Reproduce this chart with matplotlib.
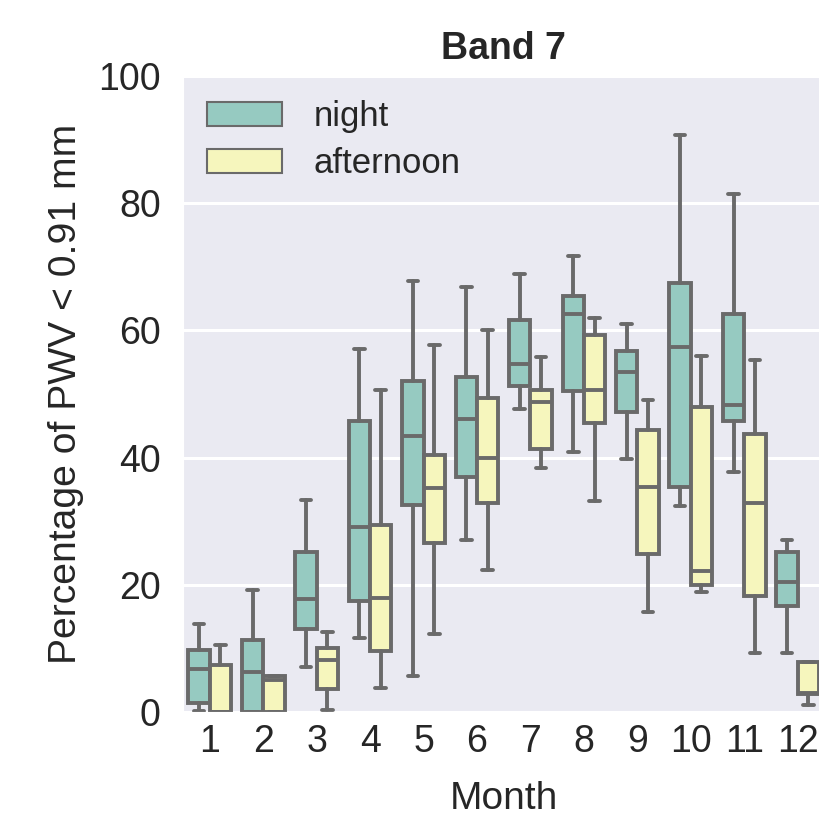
import matplotlib
matplotlib.use("Agg")
import matplotlib.pyplot as plt
import matplotlib.patches as mpatches
import seaborn as sns

# box statistics (percent)
months = [str(m) for m in range(1, 13)]

night_lo = [0.2, 0.0, 7.0, 11.7, 5.7, 27.0, 47.7, 40.8, 39.7, 32.4, 37.7, 9.3]
night_q1 = [1.4, 0.0, 13.0, 17.5, 32.5, 37.0, 51.2, 50.4, 47.1, 35.3, 45.7, 16.6]
night_med = [6.7, 6.3, 17.7, 29.1, 43.4, 46.0, 54.7, 62.6, 53.5, 57.4, 48.2, 20.5]
night_q3 = [9.7, 11.3, 25.1, 45.8, 52.1, 52.7, 61.7, 65.4, 56.7, 67.5, 62.5, 25.1]
night_hi = [13.9, 19.1, 33.3, 57.0, 67.8, 66.8, 68.8, 71.7, 61.0, 90.7, 81.4, 27.0]

aft_lo = [0.0, 0.0, 0.3, 3.7, 12.3, 22.3, 38.3, 33.1, 15.7, 18.8, 9.3, 1.1]
aft_q1 = [0.0, 0.0, 3.6, 9.6, 26.5, 32.9, 41.3, 45.5, 24.9, 20.0, 18.2, 2.8]
aft_med = [0.0, 5.0, 8.2, 17.9, 35.2, 40.0, 48.8, 50.6, 35.3, 22.1, 32.8, 3.0]
aft_q3 = [7.4, 5.6, 10.0, 29.4, 40.4, 49.3, 50.7, 59.3, 44.3, 48.0, 43.7, 7.8]
aft_hi = [10.5, 5.6, 12.6, 50.7, 57.7, 60.1, 55.8, 61.9, 49.1, 56.0, 55.4, 7.8]

night_color = "#96cac1"
aft_color = "#f6f6bd"
edge = "#6a6a6a"

sns.set_style("darkgrid")
plt.rcParams['font.family'] = ['Liberation Sans', 'DejaVu Sans']
plt.rcParams['text.color'] = '#262626'
plt.rcParams['axes.labelcolor'] = '#262626'
plt.rcParams['xtick.color'] = '#262626'
plt.rcParams['ytick.color'] = '#262626'


def make_stats(lo, q1, med, q3, hi):
    return [dict(whislo=a, q1=b, med=c, q3=d, whishi=e, fliers=[])
            for a, b, c, d, e in zip(lo, q1, med, q3, hi)]


fig = plt.figure(figsize=(8.2, 8.16), dpi=100)
ax = fig.add_axes([0.2232, 0.1275, 0.7822, 0.7794])

lw = 2.8
props = dict(
    widths=0.4, patch_artist=True, showfliers=False, manage_ticks=False,
    whiskerprops=dict(color=edge, linewidth=lw),
    capprops=dict(color=edge, linewidth=lw),
    medianprops=dict(color=edge, linewidth=lw),
)
x = range(len(months))
ax.bxp(make_stats(night_lo, night_q1, night_med, night_q3, night_hi),
       positions=[i - 0.2 for i in x],
       boxprops=dict(facecolor=night_color, edgecolor=edge, linewidth=lw), **props)
ax.bxp(make_stats(aft_lo, aft_q1, aft_med, aft_q3, aft_hi),
       positions=[i + 0.2 for i in x],
       boxprops=dict(facecolor=aft_color, edgecolor=edge, linewidth=lw), **props)

ax.set_xticks(list(x))
ax.set_xticklabels(months)
ax.set_xlim(-0.5, len(months) - 0.5)
ax.set_ylim(0, 100)
ax.set_yticks([0, 20, 40, 60, 80, 100])
ax.tick_params(axis='both', labelsize=27, length=0)
ax.tick_params(axis='y', pad=16)
ax.tick_params(axis='x', pad=9)
ax.grid(True, color='white', linewidth=2.2)
ax.xaxis.grid(False)

ax.set_xlabel('Month', fontsize=28, labelpad=15)
ax.set_ylabel('Percentage of PWV < 0.91 mm', fontsize=28.2, labelpad=10)
ax.set_title('Band 7', fontsize=27, fontweight='bold', pad=12)

handles = [mpatches.Patch(facecolor=night_color, edgecolor=edge, linewidth=1.5, label='night'),
           mpatches.Patch(facecolor=aft_color, edgecolor=edge, linewidth=1.5, label='afternoon')]
ax.legend(handles=handles, loc='upper left', fontsize=25, frameon=False,
          borderaxespad=0.3, labelspacing=0.4, handlelength=2.15, handletextpad=0.9)

fig.savefig('out.png', dpi=100)
